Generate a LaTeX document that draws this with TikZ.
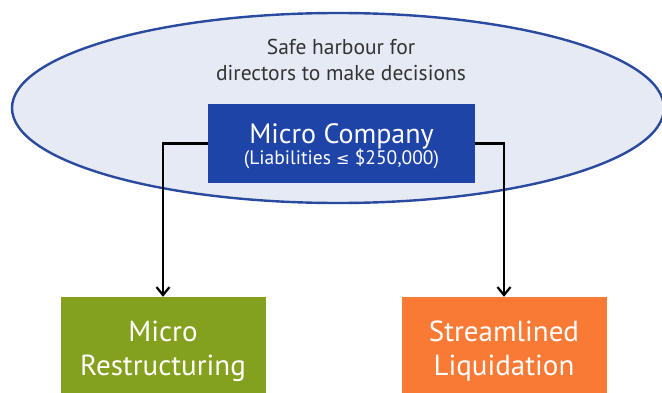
\documentclass[tikz,border=0pt]{standalone}
\usepackage{fontspec}
\setmainfont{PT Sans}
\newfontfamily\symfont{DejaVu Sans}
\usepackage{tikz}
\usetikzlibrary{arrows.meta, positioning, shapes.geometric}
\definecolor{harbourfill}{HTML}{E6EAF4}
\definecolor{harbourline}{HTML}{2A4AA0}
\definecolor{microblue}{HTML}{1F44A8}
\definecolor{restructgreen}{HTML}{83A01E}
\definecolor{liquidorange}{HTML}{F97A35}

\begin{document}
\begin{tikzpicture}[
    x=1pt, y=1pt,
    harbour/.style={
        ellipse, draw=harbourline, line width=2.4pt, fill=harbourfill,
        minimum width=652pt, minimum height=190pt, inner sep=0pt
    },
    company/.style={
        rectangle, fill=microblue, text=white,
        minimum width=267pt, minimum height=79pt,
        align=center
    },
    outcome/.style={
        rectangle, minimum width=205pt, minimum height=100pt
    },
    outlabel/.style={
        text=white, align=center, font=\fontsize{29}{34}\selectfont
    },
    arrow/.style={-{Straight Barb[length=8pt, width=13pt, line width=2.2pt]}, line width=2.6pt}
]
\useasboundingbox (0,0) rectangle (662,392);

% Safe harbour region
\node[harbour] (harbour) at (338,284) {};
\node[text=black!80, align=center, font=\fontsize{21.5}{26}\selectfont]
    (harbourtext) at (341,332) {Safe harbour for\\directors to make decisions};

% Central company box
\node[company] (company) at (341.5,248.5) {};
\node[white, align=center] (companytext) at (341.5,245.5)
    {{\fontsize{28}{28}\selectfont Micro Company}\\[-1pt]
     {\fontsize{19.5}{20}\selectfont (Liabilities {\symfont\fontsize{16}{20}\selectfont ≤} \$250,000)}};

% Outcome blocks
\node[outcome, fill=restructgreen] (restruct) at (163,45) {};
\node[outcome, fill=liquidorange] (liquid) at (504,45) {};
\node[outlabel] (restructtext) at (163,41) {Micro\\Restructuring};
\node[outlabel] (liquidtext) at (504,41) {Streamlined\\Liquidation};

% Arrows
\draw[arrow] (company.west) -| (restruct.north);
\draw[arrow] (company.east) -| (liquid.north);

\end{tikzpicture}
\end{document}
